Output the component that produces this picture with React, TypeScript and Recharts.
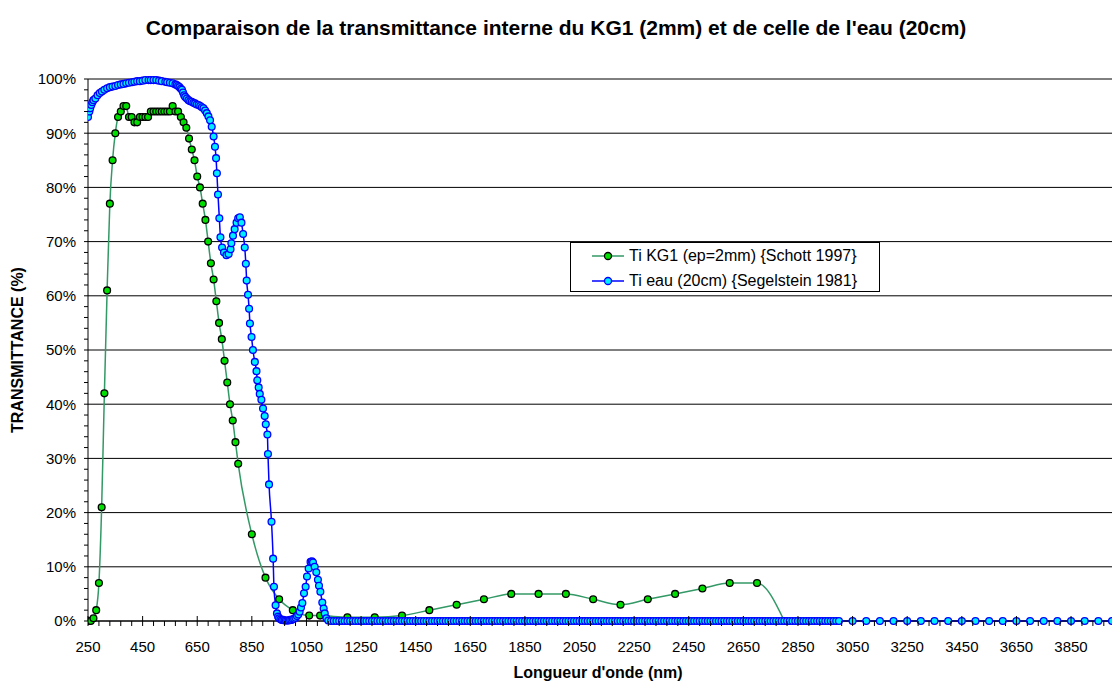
import React from 'react';
import { LineChart, Line, XAxis, YAxis, CartesianGrid } from 'recharts';

const kg1Wavelength = [
  250, 260, 270, 280, 290, 300, 310, 320, 330, 340, 350, 360, 370, 380, 390, 400, 410, 420, 430, 440,
  450, 460, 470, 480, 490, 500, 510, 520, 530, 540, 550, 560, 570, 580, 590, 600, 610, 620, 630, 640,
  650, 660, 670, 680, 690, 700, 710, 720, 730, 740, 750, 760, 770, 780, 790, 800, 850, 900, 950, 1000,
  1060, 1100, 1200, 1300, 1400, 1500, 1600, 1700, 1800, 1900, 2000, 2100, 2200, 2300, 2400, 2500, 2600, 2700, 2800,
];
const kg1Transmittance = [
  0, 0, 0.5, 2, 7, 21, 42, 61, 77, 85, 90, 93, 94, 95, 95, 93, 93, 92, 92, 93,
  93, 93, 93, 94, 94, 94, 94, 94, 94, 94, 94, 95, 94, 94, 93, 92, 91, 89, 87, 85,
  82, 80, 77, 74, 70, 66, 63, 59, 55, 52, 48, 44, 40, 37, 33, 29, 16, 8, 4, 2,
  1, 1, 0.7, 0.7, 1, 2, 3, 4, 5, 5, 5, 4, 3, 4, 5, 6, 7, 7, 0,
];

const waterWavelength = [
  250, 255, 258, 262, 266, 270, 277, 285, 293, 301, 310, 320, 330, 340, 350, 360, 370, 380, 390, 400,
  411, 420, 430, 440, 450, 460, 472, 480, 490, 500, 510, 520, 533, 540, 550, 560, 570, 575, 580, 585,
  590, 594, 598, 602, 606, 612, 618, 624, 630, 636, 642, 648, 655, 661, 667, 673, 679, 685, 691, 697,
  703, 710, 715, 719, 722, 726, 731, 735, 741, 748, 757, 765, 772, 775, 781, 787, 794, 800, 806, 812,
  818, 824, 828, 831, 836, 840, 843, 849, 854, 861, 867, 870, 875, 879, 885, 891, 897, 901, 907, 909,
  913, 922, 928, 931, 937, 942, 946, 950, 955, 960, 965, 970, 975, 980, 985, 990, 995, 1000, 1005, 1010,
  1015, 1020, 1025, 1030, 1035, 1041, 1047, 1052, 1058, 1065, 1070, 1074, 1080, 1086, 1092, 1096, 1101, 1108, 1113, 1117,
  1123, 1130,
  1140, 1150, 1160, 1170, 1180, 1190, 1200, 1210, 1220, 1230, 1240, 1250, 1260, 1270, 1280, 1290, 1300, 1310, 1320, 1330,
  1340, 1350, 1360, 1370, 1380, 1390, 1400, 1410, 1420, 1430, 1440, 1450, 1460, 1470, 1480, 1490, 1500, 1510, 1520, 1530,
  1540, 1550, 1560, 1570, 1580, 1590, 1600, 1610, 1620, 1630, 1640, 1650, 1660, 1670, 1680, 1690, 1700, 1710, 1720, 1730,
  1740, 1750, 1760, 1770, 1780, 1790, 1800, 1810, 1820, 1830, 1840, 1850, 1860, 1870, 1880, 1890, 1900, 1910, 1920, 1930,
  1940, 1950, 1960, 1970, 1980, 1990, 2000, 2010, 2020, 2030, 2040, 2050, 2060, 2070, 2080, 2090, 2100, 2110, 2120, 2130,
  2140, 2150, 2160, 2170, 2180, 2190, 2200, 2210, 2220, 2230, 2240, 2250, 2260, 2270, 2280, 2290, 2300, 2310, 2320, 2330,
  2340, 2350, 2360, 2370, 2380, 2390, 2400, 2410, 2420, 2430, 2440, 2450, 2460, 2470, 2480, 2490, 2500, 2510, 2520, 2530,
  2540, 2550, 2560, 2570, 2580, 2590, 2600, 2610, 2620, 2630, 2640, 2650, 2660, 2670, 2680, 2690, 2700, 2710, 2720, 2730,
  2740, 2750, 2760, 2770, 2780, 2790, 2800, 2810, 2820, 2830, 2840, 2850, 2860, 2870, 2880, 2890, 2900, 2910, 2920, 2930,
  2940, 2950, 2960, 2970, 2980, 2990,
  3000, 3050, 3100, 3150, 3200, 3250, 3300, 3350, 3400, 3450, 3500, 3550, 3600, 3650, 3700, 3750, 3800, 3850, 3900, 3950, 4000,
];
const waterTransmittance = [
  93.0, 94.0, 94.6, 95.2, 95.7, 96.1, 96.4, 97.0, 97.4, 97.7, 98.0, 98.3, 98.5, 98.6, 98.7, 98.9, 99.0, 99.1, 99.2, 99.3,
  99.4, 99.5, 99.6, 99.6, 99.7, 99.8, 99.8, 99.8, 99.8, 99.8, 99.7, 99.6, 99.5, 99.4, 99.3, 99.2, 99.0, 98.9, 98.7, 98.5,
  98.2, 98.0, 97.5, 97.0, 96.7, 96.4, 96.1, 95.9, 95.8, 95.6, 95.5, 95.3, 95.2, 95.0, 94.8, 94.6, 94.2, 93.7, 93.1, 92.4,
  91.2, 89.4, 87.5, 85.4, 82.6, 78.7, 74.3, 70.8, 68.9, 68.0, 67.5, 67.7, 68.6, 69.7, 71.1, 72.3, 73.5, 74.3, 74.5, 73.5,
  71.4, 68.9, 65.9, 62.8, 60.2, 57.6, 54.9, 52.4, 50.0, 47.8, 46.1, 44.4, 43.1, 41.9, 40.8, 39.2, 37.8, 36.3, 34.4, 30.8,
  25.2, 18.3, 11.5, 6.3, 2.9, 1.4, 0.8, 0.5, 0.3, 0.2, 0.2, 0.1, 0.1, 0.1, 0.1, 0.2, 0.2, 0.3, 0.4, 0.6,
  0.9, 1.2, 1.7, 2.5, 3.3, 5.1, 6.3, 8.2, 9.7, 10.9, 11.0, 10.8, 10.0, 9.0, 7.6, 6.5, 5.4, 3.4, 2.3, 1.4,
  0.5, 0.1,
  0, 0, 0, 0, 0, 0, 0, 0, 0, 0, 0, 0, 0, 0, 0, 0, 0, 0, 0, 0,
  0, 0, 0, 0, 0, 0, 0, 0, 0, 0, 0, 0, 0, 0, 0, 0, 0, 0, 0, 0,
  0, 0, 0, 0, 0, 0, 0, 0, 0, 0, 0, 0, 0, 0, 0, 0, 0, 0, 0, 0,
  0, 0, 0, 0, 0, 0, 0, 0, 0, 0, 0, 0, 0, 0, 0, 0, 0, 0, 0, 0,
  0, 0, 0, 0, 0, 0, 0, 0, 0, 0, 0, 0, 0, 0, 0, 0, 0, 0, 0, 0,
  0, 0, 0, 0, 0, 0, 0, 0, 0, 0, 0, 0, 0, 0, 0, 0, 0, 0, 0, 0,
  0, 0, 0, 0, 0, 0, 0, 0, 0, 0, 0, 0, 0, 0, 0, 0, 0, 0, 0, 0,
  0, 0, 0, 0, 0, 0, 0, 0, 0, 0, 0, 0, 0, 0, 0, 0, 0, 0, 0, 0,
  0, 0, 0, 0, 0, 0, 0, 0, 0, 0, 0, 0, 0, 0, 0, 0, 0, 0, 0, 0,
  0, 0, 0, 0, 0, 0,
  0, 0, 0, 0, 0, 0, 0, 0, 0, 0, 0, 0, 0, 0, 0, 0, 0, 0, 0, 0, 0,
];

const xTickLabels = ['250', '450', '650', '850', '1050', '1250', '1450', '1650', '1850', '2050', '2250', '2450', '2650', '2850', '3050', '3250', '3450', '3650', '3850'];
const yTickLabels = ['0%', '10%', '20%', '30%', '40%', '50%', '60%', '70%', '80%', '90%', '100%'];

const TITLE = "Comparaison de la transmittance interne du KG1 (2mm) et de celle de l'eau (20cm)";
const Y_TITLE = 'TRANSMITTANCE (%)';
const X_TITLE = "Longueur d'onde (nm)";
const KG1_NAME = 'Ti KG1 (ep=2mm) {Schott 1997}';
const WATER_NAME = 'Ti eau (20cm) {Segelstein 1981}';

const FONT = '"Liberation Sans", Arial, Helvetica, sans-serif';
const GREEN_LINE = '#339966';
const GREEN_DOT = '#00e000';
const BLUE_LINE = '#0000ff';
const BLUE_DOT = '#00eeff';
const TICK_FONT = 15;

const kg1Data = kg1Wavelength.map((x, i) => ({ x, y: kg1Transmittance[i] }));
const waterData = waterWavelength.map((x, i) => ({ x, y: waterTransmittance[i] }));

const X_MIN = 250;
const X_MAX = 4000;
const X_MAJOR = 200;
const X_MINOR = 40;
const xMajorValues = xTickLabels.map(Number);
const xTicks: number[] = [];
for (let v = X_MIN; v < X_MAX; v += X_MINOR) xTicks.push(v);
const yMajorValues = yTickLabels.map((s) => parseFloat(s));
const yTicks: number[] = [];
for (let v = 0; v <= 100; v += 2) yTicks.push(v);

const XTick = (props: any) => {
  const { x, y, payload } = props;
  const v = payload.value as number;
  const major = (v - X_MIN) % X_MAJOR === 0;
  const idx = xMajorValues.indexOf(v);
  return (
    <g>
      <line x1={x} x2={x} y1={major ? y - 5 : y} y2={y + 5} stroke="#000" strokeWidth={1} />
      {major && idx >= 0 && (
        <text x={x} y={y + 30.5} textAnchor="middle" fontSize={TICK_FONT} fontFamily={FONT} fill="#000">
          {xTickLabels[idx]}
        </text>
      )}
    </g>
  );
};

const YTick = (props: any) => {
  const { x, y, payload } = props;
  const v = payload.value as number;
  const idx = yMajorValues.indexOf(v);
  return (
    <g>
      <line x1={x - 4} x2={x} y1={y} y2={y} stroke="#000" strokeWidth={1} />
      {idx >= 0 && (
        <text x={x - 12} y={y + 5.3} textAnchor="end" fontSize={TICK_FONT} fontFamily={FONT} fill="#000">
          {yTickLabels[idx]}
        </text>
      )}
    </g>
  );
};

const LegendIcon = ({ line, fill, stroke, sw }: { line: string; fill: string; stroke: string; sw: number }) => (
  <svg width={32} height={12} style={{ display: 'block' }}>
    <line x1={0} x2={32} y1={6} y2={6} stroke={line} strokeWidth={1.5} />
    <circle cx={16} cy={6} r={3.5} fill={fill} stroke={stroke} strokeWidth={sw} />
  </svg>
);

export default function App() {
  return (
    <div style={{ position: 'absolute', left: 0, top: 0, width: 1112, height: 682, background: '#fff', fontFamily: FONT, overflow: 'hidden' }}>
      <div style={{ position: 'absolute', left: 0, top: 15, width: 1112, lineHeight: '26px', textAlign: 'center', fontWeight: 'bold', fontSize: 21, color: '#000', whiteSpace: 'nowrap' }}>
        {TITLE}
      </div>
      <div style={{ position: 'absolute', left: 18, top: 350, transform: 'translate(-50%, -50%) rotate(-90deg)', fontWeight: 'bold', fontSize: 16, color: '#000', whiteSpace: 'nowrap' }}>
        {Y_TITLE}
      </div>
      <div style={{ position: 'absolute', left: 598, top: 673, transform: 'translate(-50%, -50%)', fontWeight: 'bold', fontSize: 16, color: '#000', whiteSpace: 'nowrap' }}>
        {X_TITLE}
      </div>
      <LineChart width={1112} height={682} margin={{ top: 79, right: 0, bottom: 0, left: 0 }}>
        <CartesianGrid horizontal vertical={false} horizontalValues={yMajorValues} stroke="#000" strokeWidth={1} />
        <XAxis
          type="number"
          dataKey="x"
          domain={[X_MIN, X_MAX]}
          ticks={xTicks}
          interval={0}
          allowDataOverflow
          height={61}
          tickLine={false}
          tickSize={0}
          tickMargin={0}
          axisLine={{ stroke: '#000', strokeWidth: 1 }}
          tick={(p: any) => <XTick {...p} />}
        />
        <YAxis
          type="number"
          dataKey="y"
          domain={[0, 100]}
          ticks={yTicks}
          interval={0}
          width={88}
          tickLine={false}
          tickSize={0}
          tickMargin={0}
          axisLine={{ stroke: '#000', strokeWidth: 1 }}
          tick={(p: any) => <YTick {...p} />}
        />
        <Line
          data={kg1Data}
          dataKey="y"
          name={KG1_NAME}
          type="monotone"
          stroke={GREEN_LINE}
          strokeWidth={1.5}
          dot={{ r: 3.4, fill: GREEN_DOT, stroke: '#000', strokeWidth: 1.3 }}
          isAnimationActive={false}
        />
        <Line
          data={waterData}
          dataKey="y"
          name={WATER_NAME}
          type="monotone"
          stroke={BLUE_LINE}
          strokeWidth={1.5}
          dot={{ r: 3.4, fill: BLUE_DOT, stroke: BLUE_LINE, strokeWidth: 1.3 }}
          isAnimationActive={false}
        />
      </LineChart>
      <div style={{ position: 'absolute', left: 570, top: 242, width: 308, height: 48, border: '1px solid #000', background: '#fff', fontSize: 16, lineHeight: '18px', color: '#000' }}>
        <div style={{ position: 'absolute', left: 21, top: 4, display: 'flex', alignItems: 'center', whiteSpace: 'nowrap' }}>
          <LegendIcon line={GREEN_LINE} fill={GREEN_DOT} stroke="#000" sw={1.3} />
          <span style={{ marginLeft: 5 }}>{KG1_NAME}</span>
        </div>
        <div style={{ position: 'absolute', left: 21, top: 29, display: 'flex', alignItems: 'center', whiteSpace: 'nowrap' }}>
          <LegendIcon line={BLUE_LINE} fill={BLUE_DOT} stroke={BLUE_LINE} sw={1.3} />
          <span style={{ marginLeft: 5 }}>{WATER_NAME}</span>
        </div>
      </div>
    </div>
  );
}
